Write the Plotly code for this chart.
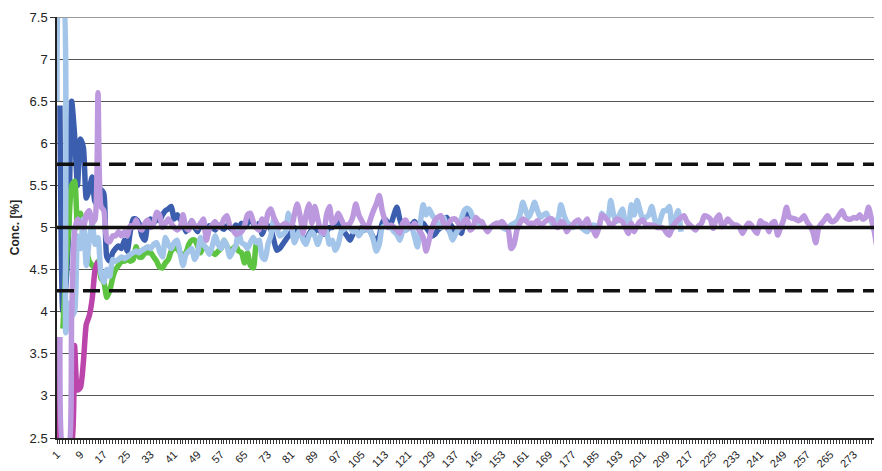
import plotly.graph_objects as go

N_CATS = 283
categories = list(range(1, N_CATS + 1))
x_tick_values = list(range(1, 282, 8))
x_tick_labels = [str(v) for v in x_tick_values]
y_tick_values = [2.5, 3, 3.5, 4, 4.5, 5, 5.5, 6, 6.5, 7, 7.5]
y_tick_labels = ["2.5", "3", "3.5", "4", "4.5", "5", "5.5", "6", "6.5", "7", "7.5"]

target_value = 5.0
upper_limit = 5.75
lower_limit = 4.25

dark_blue = [
    None, 6.45, 4.0, 4.3, 5.0, 6.5, 6.1, 5.5, 6.05, 5.95,
    5.35, 5.45, 5.6, 5.3, 5.35, 5.45, 5.4, 4.65, 4.6, 4.7,
    4.75, 4.78, 4.75, 4.85, 4.72, 4.95, 5.1, 5.1, 5.05, 4.9,
    4.85, 5.05, 5.1, 5.05, 5.1, 5.08, 5.15, 5.2, 5.22, 5.25,
    5.1, 5.15, 5.1, 5.05, 4.95, 5.0, 5.08, 5.0, 4.95, 5.05,
    5.0, 4.98, 5.02, 5.0, 4.97, 5.03, 5.0, 4.98, 5.02, 5.0,
    4.97, 5.03, 5.0, 5.05, 5.0, 5.05, 5.1, 5.05, 5.0, 5.05,
    4.92, 5.0, 5.02, 4.98, 4.85, 4.73, 4.75, 4.8, 4.85, 4.9,
    4.95, 5.0, 4.95, 4.97, 4.88, 4.85, 4.92, 4.97, 4.95, 5.0,
    4.95, 4.92, 4.95, 5.0, 5.0, 5.05, 5.07, 5.0, 4.95, 4.9,
    4.85, 4.92, 4.97, 4.95, 5.0, 4.97, 5.0, 4.95, 4.88, 4.85,
    4.9, 5.05, 5.1, 5.05, 5.05, 5.15, 5.24, 5.1, 5.0, 4.97,
    5.0, 5.03, 5.07, 5.02, 4.98, 5.05, 5.0, 4.95, 4.9, 4.92,
    4.97, 5.0, 5.1, 5.12, 5.05, 5.0, 4.95, 4.97, 4.93, 5.1,
    5.17, 5.1,
]

green = [
    None, None, 3.8, 4.5, 5.0, 5.5, 5.55, 5.0, 5.17, 4.88,
    4.75, 4.6, 4.55, 4.52, 4.6, 4.4, 4.35, 4.17, 4.25, 4.4,
    4.5, 4.55, 4.6, 4.6, 4.62, 4.6, 4.62, 4.77, 4.65, 4.65,
    4.7, 4.7, 4.7, 4.65, 4.6, 4.53, 4.52, 4.58, 4.62, 4.72,
    4.75, 4.75, 4.7, 4.68, 4.7, 4.8, 4.85, 4.85, 4.78, 4.7,
    4.78, 4.75, 4.7, 4.7, 4.68, 4.72, 4.75, 4.85, 4.78, 4.72,
    4.75, 4.78, 4.72, 4.7, 4.58, 4.7, 4.55, 4.52, 4.8, 4.85,
]

magenta = [
    3.7, 2.4, 2.4, 2.4, 2.4, 2.4, 3.6, 3.07, 3.1, 3.4,
    3.85, 3.95, 4.15, 4.5, 4.6,
]

light_blue = [
    6.5, 7.8, 7.8, 3.75, 4.1, 3.95, 4.0, 4.9, 4.75, 5.1,
    4.55, 4.85, 5.05, 4.8, 4.88, 4.45, 4.35, 4.5, 4.42, 4.62,
    4.6, 4.62, 4.65, 4.63, 4.65, 4.68, 4.7, 4.72, 4.7, 4.73,
    4.75, 4.77, 4.75, 4.8, 4.82, 4.72, 4.65, 4.88, 4.8, 4.75,
    4.82, 4.85, 4.7, 4.55, 4.68, 4.72, 4.75, 4.62, 4.7, 4.88,
    4.8, 4.75, 4.68, 4.78, 4.9, 4.8, 4.75, 4.85, 4.78, 4.65,
    4.72, 4.78, 4.95, 4.82, 4.8, 4.75, 4.82, 4.88, 4.82, 4.85,
    4.65, 4.62, 4.8, 4.9, 5.1, 5.0, 4.9, 4.92, 4.95, 5.17,
    5.05, 4.82, 4.9, 4.98, 4.85, 4.8, 4.9, 4.95, 4.9, 4.8,
    4.9, 5.0, 4.95, 4.8, 4.85, 4.73, 4.8, 4.95, 4.98, 5.0,
    5.0, 4.95, 4.97, 4.9, 4.95, 5.0, 4.97, 4.95, 4.85, 4.72,
    4.8, 5.0, 5.02, 5.0, 5.0, 4.95, 4.92, 4.85, 4.95, 4.97,
    5.0, 5.0, 4.9, 4.77, 5.05, 5.27, 5.15, 5.22, 5.15, 5.1,
    5.05, 5.0, 5.12, 5.0, 4.95, 4.85, 4.92, 4.98, 5.1, 5.2,
    5.23, 5.2, 5.12, 5.08, 5.05, 5.05, 5.0, 4.97, 5.0, 5.03,
    5.05, 5.03, 5.0, 4.98, 5.0, 5.03, 5.05, 5.07, 5.15, 5.3,
    5.2, 5.12, 5.2, 5.3, 5.2, 5.12, 5.15, 5.17, 5.1, 5.05,
    5.08, 5.1, 5.27, 5.15, 5.07, 5.03, 5.0, 5.02, 5.03, 5.0,
    4.97, 4.95, 5.0, 5.03, 5.02, 5.0, 5.17, 5.12, 5.1, 5.32,
    5.15, 5.07, 5.15, 5.22, 5.05, 4.98, 5.27, 5.15, 5.32, 5.2,
    5.1, 5.12, 5.15, 5.25, 5.1, 5.0, 5.1, 5.2, 5.2, 5.25,
    4.98, 5.1, 5.2, 4.95,
]

lavender = [
    None, 3.7, 2.4, 2.4, 2.4, 3.94, 4.95, 5.1, 5.05, 5.0,
    5.15, 5.2, 5.05, 5.1, 6.6, 5.25, 5.2, 4.85, 4.83, 4.9,
    4.9, 4.95, 4.9, 4.95, 4.9, 5.02, 5.0, 5.09, 5.0, 4.97,
    5.05, 5.09, 5.0, 5.05, 5.18, 5.15, 5.0, 5.05, 5.1, 5.05,
    5.0, 4.97, 5.0, 5.15, 5.0, 4.97, 5.08, 5.02, 5.0, 5.05,
    5.1, 4.85, 4.98, 5.03, 5.07, 5.0, 5.02, 5.1, 5.14, 5.02,
    4.98, 4.92, 4.93, 4.95, 5.02, 5.15, 5.17, 5.07, 5.0, 4.97,
    5.1, 5.0, 5.17, 5.22, 5.12, 5.05, 5.0, 5.03, 5.05, 5.02,
    5.0, 5.15, 5.28, 5.13, 4.93, 5.15, 5.28, 5.05, 5.25, 5.1,
    4.97, 4.93, 5.15, 5.25, 5.05, 5.08, 5.17, 5.1, 5.03, 5.03,
    5.05, 5.13, 5.28, 5.15, 5.08, 5.02, 5.0, 5.1, 5.2, 5.28,
    5.38, 5.2, 5.08, 5.0, 5.03, 5.0, 4.97, 4.93, 5.05, 5.09,
    5.02, 5.0, 5.05, 5.0, 4.95, 4.88, 4.72, 4.85, 5.0, 5.08,
    5.12, 5.14, 5.05, 5.0, 5.07, 5.1, 5.1, 5.05, 5.0, 5.08,
    5.1, 4.97, 5.0, 5.12, 5.08, 5.07, 5.0, 4.95, 5.0, 5.03,
    5.05, 5.05, 5.07, 5.02, 4.98, 4.75, 4.8, 4.97, 5.05, 5.1,
    5.08, 5.05, 5.05, 5.05, 5.08, 5.03, 5.05, 5.08, 5.1, 5.1,
    5.02, 5.0, 5.07, 5.05, 4.95, 5.0, 5.03, 5.07, 5.09, 5.03,
    5.05, 5.1, 5.0, 4.97, 4.9, 5.0, 5.15, 5.12, 5.08, 5.02,
    5.05, 5.1, 5.09, 5.07, 5.0, 4.93, 5.05, 4.95, 5.02, 5.07,
    5.09, 5.03, 5.03, 5.03, 5.02, 5.0, 5.0, 4.99, 4.94, 4.91,
    5.0, 5.05, 5.09, 5.12, 5.14, 5.07, 5.03, 5.0, 4.97, 5.02,
    5.05, 5.14, 5.13, 5.1, 4.99, 5.1, 5.15, 5.01, 5.05, 5.1,
    5.06, 5.03, 5.03, 5.0, 4.93, 5.0, 5.05, 5.03, 4.97, 4.93,
    5.08, 5.05, 5.04, 4.95, 5.05, 5.07, 4.91, 5.0, 5.09, 5.24,
    5.12, 5.11, 5.1, 5.08, 5.1, 5.14, 5.07, 5.02, 4.95, 4.82,
    5.0, 5.05, 5.09, 5.14, 5.08, 5.07, 5.1, 5.15, 5.2, 5.12,
    5.1, 5.1, 5.12, 5.11, 5.15, 5.1, 5.12, 5.24, 5.1, 4.95,
    4.76, 4.95, 5.05,
]


def pad(values):
    return values + [None] * (N_CATS - len(values))


series = [
    ("Series 1", dark_blue, "#3B5EAE"),
    ("Series 2", green, "#5DC441"),
    ("Series 3", magenta, "#BB45AB"),
    ("Series 4", light_blue, "#A3C5E9"),
    ("Series 5", lavender, "#BC98DE"),
]

fig = go.Figure()
for name, vals, color in series:
    fig.add_trace(go.Scatter(
        x=categories, y=pad(vals), mode="lines", name=name,
        line=dict(color=color, width=5.5, shape="spline", smoothing=0.6),
        connectgaps=False, hoverinfo="skip",
    ))

# reference lines (on top of the series)
for val, dash in [(target_value, "solid"), (upper_limit, "17px,9px"), (lower_limit, "17px,9px")]:
    fig.add_shape(type="line", xref="paper", x0=0, x1=1, yref="y", y0=val, y1=val,
                  line=dict(color="#111111", width=3.5, dash=dash), layer="above")

# top border line
fig.add_shape(type="line", xref="paper", x0=0, x1=1, yref="y", y0=7.5, y1=7.5,
              line=dict(color="#9a9a9a", width=2), layer="above")

# page body has an 8px margin, so the figure is sized to end at the window edge
fig.update_layout(
    width=874, height=463,
    margin=dict(l=49, r=0, t=9, b=33),
    paper_bgcolor="white", plot_bgcolor="white",
    showlegend=False,
    font=dict(family="Liberation Sans, Arial, sans-serif", color="#222222"),
)
fig.update_xaxes(
    type="linear", range=[1, 282.6],
    tickmode="array", tickvals=x_tick_values, ticktext=x_tick_labels,
    tickangle=-45, tickfont=dict(size=11, color="#222222"),
    ticks="outside", ticklen=4, tickcolor="#333333",
    minor=dict(dtick=1, tick0=1, ticks="outside", ticklen=4, tickcolor="#333333", showgrid=False),
    showline=True, linecolor="#222222", linewidth=1.5,
    showgrid=False, zeroline=False,
)
fig.update_yaxes(
    range=[2.5, 7.5], tickmode="array", tickvals=y_tick_values, ticktext=y_tick_labels,
    tickfont=dict(size=13, color="#222222"),
    ticks="outside", ticklen=5, tickcolor="#333333",
    showline=True, linecolor="#222222", linewidth=1.5,
    showgrid=True, gridcolor="#555555", gridwidth=1, zeroline=False,
    title=dict(text="<b>Conc. [%]</b>", font=dict(size=12, color="#222222"), standoff=8),
)

fig.write_html("out.html")
